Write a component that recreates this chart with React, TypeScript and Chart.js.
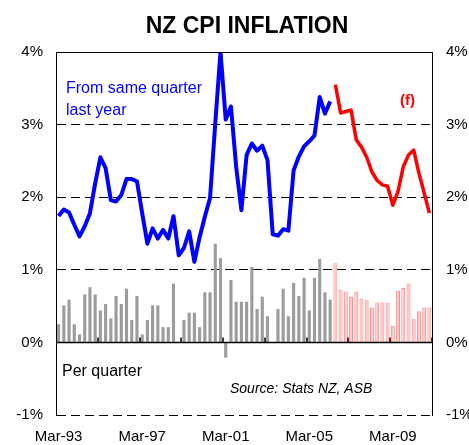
import { useEffect, useRef } from "react";
import { Chart, registerables } from "chart.js";

Chart.register(...registerables);

const quarters = [
  "Mar-93", "Jun-93", "Sep-93", "Dec-93", "Mar-94", "Jun-94", "Sep-94", "Dec-94",
  "Mar-95", "Jun-95", "Sep-95", "Dec-95", "Mar-96", "Jun-96", "Sep-96", "Dec-96",
  "Mar-97", "Jun-97", "Sep-97", "Dec-97", "Mar-98", "Jun-98", "Sep-98", "Dec-98",
  "Mar-99", "Jun-99", "Sep-99", "Dec-99", "Mar-00", "Jun-00", "Sep-00", "Dec-00",
  "Mar-01", "Jun-01", "Sep-01", "Dec-01", "Mar-02", "Jun-02", "Sep-02", "Dec-02",
  "Mar-03", "Jun-03", "Sep-03", "Dec-03", "Mar-04", "Jun-04", "Sep-04", "Dec-04",
  "Mar-05", "Jun-05", "Sep-05", "Dec-05", "Mar-06", "Jun-06", "Sep-06", "Dec-06",
  "Mar-07", "Jun-07", "Sep-07", "Dec-07", "Mar-08", "Jun-08", "Sep-08", "Dec-08",
  "Mar-09", "Jun-09", "Sep-09", "Dec-09", "Mar-10", "Jun-10", "Sep-10", "Dec-10",
];

const tickLabels = ["Mar-93", "Mar-97", "Mar-01", "Mar-05", "Mar-09"];

// Annual % change (from same quarter last year), actual
const annualActual = [
  1.74, 1.83, 1.79, 1.62, 1.46, 1.6, 1.78, 2.19, 2.55, 2.4, 1.96, 1.94, 2.03, 2.25,
  2.25, 2.22, 1.78, 1.36, 1.57, 1.43, 1.55, 1.43, 1.74, 1.2, 1.3, 1.53, 1.11, 1.45,
  1.73, 1.99, 3.02, 4.0, 3.07, 3.25, 2.42, 1.82, 2.58, 2.74, 2.64, 2.71, 2.51, 1.49,
  1.47, 1.56, 1.54, 2.37, 2.56, 2.7, 2.77, 2.85, 3.38, 3.15, 3.32,
];

// Annual % change, forecast
const annualForecast = [
  3.55, 3.16, 3.18, 3.2, 2.79, 2.69, 2.55, 2.35, 2.23, 2.17, 2.15, 1.89, 2.08, 2.42,
  2.58, 2.65, 2.33, 2.06, 1.78,
];

// Quarterly % change, actual
const quarterlyActual = [
  0.25, 0.51, 0.59, 0.25, 0.11, 0.66, 0.76, 0.66, 0.44, 0.53, 0.33, 0.64, 0.53, 0.74,
  0.31, 0.64, 0.11, 0.31, 0.51, 0.51, 0.21, 0.21, 0.81, 0.0, 0.31, 0.41, 0.41, 0.21,
  0.69, 0.69, 1.36, 1.16, -0.21, 0.86, 0.56, 0.56, 0.56, 1.04, 0.46, 0.63, 0.36, 0.0,
  0.46, 0.74, 0.36, 0.82, 0.64, 0.89, 0.44, 0.89, 1.15, 0.69, 0.59,
];

// Quarterly % change, forecast
const quarterlyForecast = [
  1.09, 0.73, 0.7, 0.63, 0.7, 0.6, 0.58, 0.48, 0.55, 0.55, 0.55, 0.23, 0.71, 0.75,
  0.81, 0.32, 0.43, 0.48, 0.48,
];

const FONT = "'Liberation Sans', Arial, Helvetica, sans-serif";

export default function App() {
  const ref = useRef<HTMLCanvasElement | null>(null);

  useEffect(() => {
    document.body.style.margin = "0";
    const canvas = ref.current;
    if (!canvas) return;

    const nA = annualActual.length;
    const nF = annualForecast.length;
    const pad = (n: number) => Array.from({ length: n }, () => null as number | null);

    const lineActual = [...annualActual, ...pad(nF)];
    const lineForecast = [...pad(nA), ...annualForecast];
    const barActual = [...quarterlyActual, ...pad(quarterlyForecast.length)];
    const barForecast = [...pad(quarterlyActual.length), ...quarterlyForecast];

    const decor = {
      id: "decor",
      afterDatasetsDraw(chart: any) {
        const { ctx, chartArea } = chart;
        const x = chart.scales.x;
        const y = chart.scales.y;
        ctx.save();
        ctx.strokeStyle = "#000";
        // zero line
        ctx.lineWidth = 1.5;
        const y0 = y.getPixelForValue(0);
        ctx.beginPath();
        ctx.moveTo(chartArea.left, y0);
        ctx.lineTo(chartArea.right, y0);
        ctx.stroke();
        // tick marks on zero line every 2 years
        for (let k = 8; k <= quarters.length; k += 8) {
          const px = Math.round(x.getPixelForValue(k - 0.5));
          ctx.beginPath();
          ctx.moveTo(px, y0);
          ctx.lineTo(px, y0 - 5);
          ctx.stroke();
        }
        // top solid line
        ctx.lineWidth = 1;
        const yTop = Math.round(y.getPixelForValue(4)) + 0.5;
        ctx.beginPath();
        ctx.moveTo(chartArea.left, yTop);
        ctx.lineTo(chartArea.right, yTop);
        ctx.stroke();
        ctx.restore();
      },
      afterDraw(chart: any) {
        const { ctx, chartArea } = chart;
        const y = chart.scales.y;
        ctx.save();
        ctx.textBaseline = "middle";
        ctx.textAlign = "center";
        ctx.fillStyle = "#000";
        ctx.font = `bold 23px ${FONT}`;
        ctx.fillText("NZ CPI INFLATION", (chartArea.left + chartArea.right) / 2 + 3, 27);

        ctx.textAlign = "left";
        ctx.fillStyle = "#0000ff";
        ctx.font = `16px ${FONT}`;
        ctx.fillText("From same quarter", chartArea.left + 10, y.getPixelForValue(3.49));
        ctx.fillText("last year", chartArea.left + 10, y.getPixelForValue(3.19));

        ctx.fillStyle = "#ff0000";
        ctx.font = `bold 15px ${FONT}`;
        ctx.fillText("(f)", chartArea.left + 344, y.getPixelForValue(3.33));

        ctx.fillStyle = "#000";
        ctx.font = `16px ${FONT}`;
        ctx.fillText("Per quarter", chartArea.left + 6, y.getPixelForValue(-0.4));

        ctx.font = `italic 14px ${FONT}`;
        ctx.fillText("Source: Stats NZ, ASB", chartArea.left + 174, y.getPixelForValue(-0.64));
        ctx.restore();
      },
    };

    const chart = new Chart(canvas, {
      type: "bar",
      data: {
        labels: quarters,
        datasets: [
          {
            type: "line",
            label: "Annual (actual)",
            data: lineActual,
            borderColor: "#0000ff",
            borderWidth: 4,
            pointRadius: 0,
            tension: 0,
            spanGaps: false,
            borderJoinStyle: "round",
            order: 0,
          } as any,
          {
            type: "line",
            label: "Annual (forecast)",
            data: lineForecast,
            borderColor: "#ff0000",
            borderWidth: 3.5,
            pointRadius: 0,
            tension: 0,
            spanGaps: false,
            borderJoinStyle: "round",
            order: 0,
          } as any,
          {
            type: "bar",
            label: "Quarterly (actual)",
            data: barActual,
            backgroundColor: "#9c9c9c",
            borderWidth: 0,
            categoryPercentage: 1,
            barPercentage: 0.6,
            grouped: false,
            order: 1,
          } as any,
          {
            type: "bar",
            label: "Quarterly (forecast)",
            data: barForecast,
            backgroundColor: "#ffc8c8",
            borderColor: "#ff8c8c",
            borderWidth: 1,
            categoryPercentage: 1,
            barPercentage: 0.75,
            grouped: false,
            order: 1,
          } as any,
        ],
      },
      options: {
        animation: false,
        responsive: true,
        maintainAspectRatio: false,
        layout: { padding: { top: 52, left: 0, right: 0, bottom: 0 } },
        plugins: {
          legend: { display: false },
          title: { display: false },
          tooltip: { enabled: false },
        },
        scales: {
          x: {
            type: "category",
            offset: true,
            afterFit: (s: any) => {
              s.height = 30;
            },
            grid: { display: false, drawTicks: false },
            border: { display: false },
            ticks: {
              autoSkip: false,
              maxRotation: 0,
              minRotation: 0,
              padding: 13,
              color: "#000",
              font: { family: FONT, size: 15 },
              callback: (_v: any, i: number) =>
                tickLabels.includes(quarters[i]) ? quarters[i] : "",
            },
          },
          y: {
            position: "left",
            min: -1,
            max: 4,
            afterFit: (s: any) => {
              s.width = 56;
            },
            ticks: {
              stepSize: 1,
              padding: 13,
              color: "#000",
              font: { family: FONT, size: 15 },
              callback: (v: any) => `${v}%`,
            },
            grid: {
              drawTicks: false,
              lineWidth: 1,
              color: (c: any) =>
                c.tick && (c.tick.value === 0 || c.tick.value === 4) ? "rgba(0,0,0,0)" : "#000",
            },
            border: { display: true, color: "#000", width: 1, dash: [9, 5] },
          },
          y2: {
            position: "right",
            min: -1,
            max: 4,
            afterFit: (s: any) => {
              s.width = 37;
            },
            ticks: {
              stepSize: 1,
              padding: 14,
              color: "#000",
              font: { family: FONT, size: 15 },
              callback: (v: any) => `${v}%`,
            },
            grid: { drawOnChartArea: false, drawTicks: false },
            border: { display: true, color: "#000", width: 1 },
          },
        },
      } as any,
      plugins: [decor],
    });

    return () => chart.destroy();
  }, []);

  return (
    <div style={{ width: 469, height: 445, position: "relative" }}>
      <canvas ref={ref} />
    </div>
  );
}
